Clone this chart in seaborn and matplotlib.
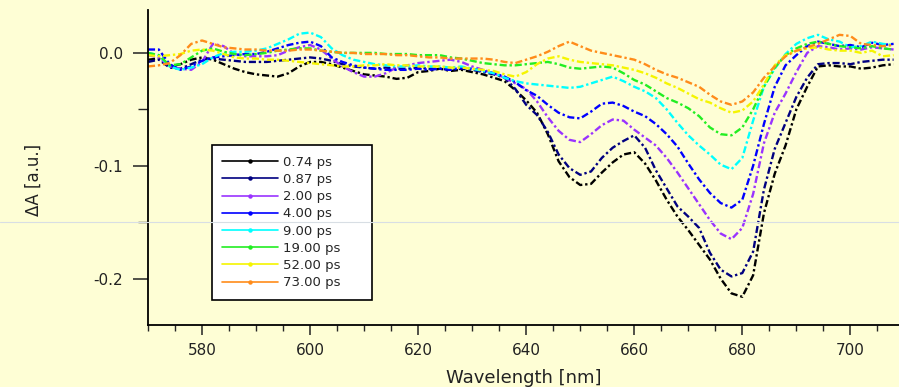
import numpy as np
import pandas as pd
import matplotlib
matplotlib.use("Agg")
import matplotlib.pyplot as plt
import seaborn as sns
from matplotlib.lines import Line2D
from matplotlib.ticker import MultipleLocator

# wavelength grid (nm) and transient absorption traces
wavelength = list(range(570, 710, 2))

delays = ['0.74 ps', '0.87 ps', '2.00 ps', '4.00 ps', '9.00 ps', '19.00 ps', '52.00 ps', '73.00 ps']
colors = ['#000000', '#000080', '#9933FF', '#0000FF', '#00FFFF', '#22EE22', '#F5F500', '#FF8C1A']

da_074 = [-0.006, -0.005, -0.012, -0.010, -0.006, -0.004, -0.006, -0.010, -0.014, -0.017,
          -0.019, -0.020, -0.021, -0.018, -0.012, -0.008, -0.008, -0.010, -0.013, -0.016,
          -0.019, -0.020, -0.021, -0.023, -0.022, -0.017, -0.016, -0.014, -0.016, -0.015,
          -0.017, -0.019, -0.022, -0.025, -0.033, -0.042, -0.053, -0.072, -0.096, -0.110,
          -0.117, -0.116, -0.106, -0.097, -0.090, -0.088, -0.098, -0.113, -0.130, -0.145,
          -0.157, -0.170, -0.183, -0.200, -0.213, -0.216, -0.197, -0.142, -0.107, -0.082,
          -0.050, -0.030, -0.012, -0.011, -0.012, -0.012, -0.014, -0.013, -0.011, -0.010]
da_087 = [-0.008, -0.006, -0.013, -0.014, -0.010, -0.006, -0.005, -0.006, -0.007, -0.008,
          -0.008, -0.008, -0.007, -0.006, -0.005, -0.004, -0.005, -0.007, -0.010, -0.012,
          -0.013, -0.014, -0.013, -0.014, -0.014, -0.013, -0.014, -0.014, -0.015, -0.014,
          -0.015, -0.017, -0.019, -0.022, -0.032, -0.046, -0.055, -0.070, -0.090, -0.102,
          -0.108, -0.105, -0.093, -0.084, -0.078, -0.073, -0.084, -0.104, -0.120, -0.136,
          -0.145, -0.155, -0.177, -0.192, -0.198, -0.195, -0.176, -0.121, -0.085, -0.062,
          -0.039, -0.022, -0.010, -0.009, -0.009, -0.010, -0.008, -0.007, -0.006, -0.006]
da_200 = [-0.002, -0.004, -0.012, -0.014, -0.015, -0.008, 0.008, 0.006, -0.001, -0.003,
          -0.003, -0.003, -0.002, 0.002, 0.005, 0.007, 0.003, -0.005, -0.012, -0.017,
          -0.021, -0.021, -0.018, -0.013, -0.011, -0.009, -0.008, -0.007, -0.006, -0.008,
          -0.012, -0.015, -0.018, -0.022, -0.027, -0.032, -0.043, -0.057, -0.069, -0.077,
          -0.079, -0.072, -0.064, -0.059, -0.060, -0.068, -0.075, -0.082, -0.093, -0.106,
          -0.120, -0.134, -0.148, -0.160, -0.165, -0.155, -0.125, -0.080, -0.053, -0.036,
          -0.017, 0.000, 0.006, 0.005, 0.003, 0.004, 0.003, 0.005, 0.004, 0.003]
da_400 = [0.003, 0.003, -0.010, -0.015, -0.012, -0.007, -0.004, -0.003, -0.002, -0.001,
          -0.001, 0.001, 0.004, 0.007, 0.009, 0.010, 0.006, -0.004, -0.008, -0.011,
          -0.013, -0.014, -0.015, -0.015, -0.015, -0.014, -0.015, -0.014, -0.015, -0.013,
          -0.014, -0.016, -0.018, -0.021, -0.026, -0.033, -0.038, -0.046, -0.053, -0.057,
          -0.058, -0.052, -0.045, -0.044, -0.047, -0.052, -0.056, -0.063, -0.072, -0.083,
          -0.098, -0.112, -0.124, -0.133, -0.137, -0.130, -0.100, -0.063, -0.030, -0.011,
          -0.002, 0.006, 0.010, 0.008, 0.006, 0.007, 0.005, 0.009, 0.007, 0.008]
da_900 = [0.000, -0.002, -0.012, -0.015, -0.013, -0.010, -0.004, 0.000, 0.001, 0.001,
          0.002, 0.004, 0.008, 0.012, 0.017, 0.018, 0.014, 0.004, -0.002, -0.006,
          -0.008, -0.010, -0.011, -0.012, -0.012, -0.011, -0.012, -0.012, -0.013, -0.012,
          -0.014, -0.016, -0.018, -0.022, -0.025, -0.027, -0.028, -0.029, -0.030, -0.031,
          -0.030, -0.027, -0.024, -0.021, -0.025, -0.030, -0.034, -0.040, -0.050, -0.062,
          -0.073, -0.082, -0.090, -0.099, -0.103, -0.093, -0.060, -0.030, -0.014, -0.001,
          0.008, 0.013, 0.016, 0.012, 0.010, 0.005, 0.006, 0.010, 0.008, 0.007]
da_1900 = [0.000, -0.002, -0.011, -0.010, -0.004, 0.002, 0.004, 0.001, -0.001, -0.002,
           -0.001, 0.000, 0.002, 0.003, 0.004, 0.004, 0.002, 0.001, 0.000, 0.000,
           0.000, 0.000, -0.001, -0.001, -0.001, -0.002, -0.002, -0.002, -0.004, -0.005,
           -0.007, -0.009, -0.010, -0.011, -0.011, -0.010, -0.009, -0.008, -0.010, -0.013,
           -0.014, -0.013, -0.012, -0.013, -0.018, -0.024, -0.028, -0.034, -0.040, -0.044,
           -0.049, -0.056, -0.066, -0.072, -0.073, -0.066, -0.050, -0.030, -0.013, -0.002,
           0.004, 0.008, 0.010, 0.008, 0.006, 0.005, 0.004, 0.006, 0.004, 0.003]
da_5200 = [-0.002, -0.003, -0.002, -0.001, 0.002, 0.003, 0.002, -0.001, -0.004, -0.005,
           -0.005, -0.006, -0.006, -0.007, -0.008, -0.009, -0.010, -0.011, -0.012, -0.012,
           -0.011, -0.011, -0.010, -0.011, -0.011, -0.012, -0.012, -0.012, -0.013, -0.013,
           -0.014, -0.015, -0.016, -0.019, -0.021, -0.017, -0.010, -0.005, -0.003, -0.006,
           -0.008, -0.009, -0.010, -0.011, -0.013, -0.015, -0.018, -0.022, -0.027, -0.031,
           -0.036, -0.041, -0.044, -0.049, -0.053, -0.051, -0.043, -0.028, -0.011, -0.002,
           0.002, 0.004, 0.005, 0.003, 0.002, 0.002, 0.000, 0.002, -0.003, -0.002]
da_7300 = [-0.012, -0.011, -0.009, -0.002, 0.008, 0.011, 0.008, 0.005, 0.004, 0.003,
           0.003, 0.002, 0.002, 0.002, 0.003, 0.003, 0.002, 0.001, 0.000, 0.000,
           -0.001, -0.001, -0.001, -0.002, -0.002, -0.003, -0.004, -0.004, -0.005, -0.005,
           -0.005, -0.005, -0.006, -0.008, -0.009, -0.006, -0.003, 0.001, 0.006, 0.010,
           0.006, 0.002, 0.000, -0.002, -0.004, -0.006, -0.010, -0.015, -0.019, -0.022,
           -0.026, -0.030, -0.037, -0.043, -0.046, -0.043, -0.035, -0.022, -0.012, -0.003,
           0.002, 0.005, 0.008, 0.012, 0.016, 0.015, 0.008, 0.007, 0.006, 0.007]

series = [da_074, da_087, da_200, da_400, da_900, da_1900, da_5200, da_7300]

frames = []
for name, vals in zip(delays, series):
    frames.append(pd.DataFrame({'wavelength': wavelength, 'dA': vals, 'delay': name}))
df = pd.concat(frames, ignore_index=True)

bg = '#FEFED5'
sns.set_theme(style='ticks')
plt.rcParams['font.family'] = ['DejaVu Sans']
plt.rcParams['axes.facecolor'] = bg
plt.rcParams['figure.facecolor'] = bg

fig = plt.figure(figsize=(8.99, 3.87), dpi=100)
ax = fig.add_axes([148 / 899, 1 - 325 / 387, 1 - 148 / 899, 315 / 387])

sns.lineplot(data=df, x='wavelength', y='dA', hue='delay', hue_order=delays,
             palette=colors, estimator=None, sort=False, legend=False, ax=ax)
for ln in ax.lines:
    ln.set_linestyle((0, (3, 1.2, 1, 1.2)))
    ln.set_linewidth(1.7)

ax.set_xlim(570, 709)
ax.set_ylim(-0.241, 0.038)
ax.xaxis.set_major_locator(MultipleLocator(20))
ax.xaxis.set_minor_locator(MultipleLocator(5))
ax.yaxis.set_major_locator(MultipleLocator(0.1))
ax.yaxis.set_minor_locator(MultipleLocator(0.05))
ax.yaxis.set_major_formatter(matplotlib.ticker.FormatStrFormatter('%.1f'))

for side in ['top', 'right']:
    ax.spines[side].set_visible(False)
for side in ['left', 'bottom']:
    ax.spines[side].set_color('black')
    ax.spines[side].set_linewidth(1.3)

ax.tick_params(axis='x', which='major', length=7, width=1.1, direction='out', labelsize=11, pad=6, colors='#222222')
ax.tick_params(axis='x', which='minor', length=4, width=1.0, direction='out')
ax.tick_params(axis='y', which='major', length=11, width=1.1, direction='out', labelsize=11, pad=7, colors='#222222')
ax.tick_params(axis='y', which='minor', length=7, width=1.0, direction='out')

ax.set_xlabel('Wavelength [nm]', fontsize=13, color='#222222')
ax.set_ylabel('ΔA [a.u.]', fontsize=12, color='#222222')
ax.yaxis.set_label_coords(-0.14, 0.46)
ax.xaxis.set_label_coords(0.5, -0.14)

handles = [Line2D([], [], color=c, lw=1.2, marker='o', markersize=2.2) for c in colors]
leg_w = 160 / 751
leg_h = 155 / 315
leg = ax.legend(handles, delays, loc='upper left',
                bbox_to_anchor=(0.085, 0.571 - leg_h, leg_w, leg_h), mode='expand',
                borderaxespad=0, fontsize=9.5, frameon=True, fancybox=False,
                framealpha=1, facecolor='white', edgecolor='black',
                handlelength=4.2, handletextpad=0.4, labelspacing=0.32,
                borderpad=0.8)
leg.get_frame().set_linewidth(1.2)

# faint horizontal line running across the whole image
fig.add_artist(Line2D([0, 1], [1 - 222 / 387, 1 - 222 / 387], transform=fig.transFigure,
                      color='#D8DEE4', lw=0.8, zorder=10))

fig.savefig('out.png', dpi=100, facecolor=bg)
plt.close(fig)
